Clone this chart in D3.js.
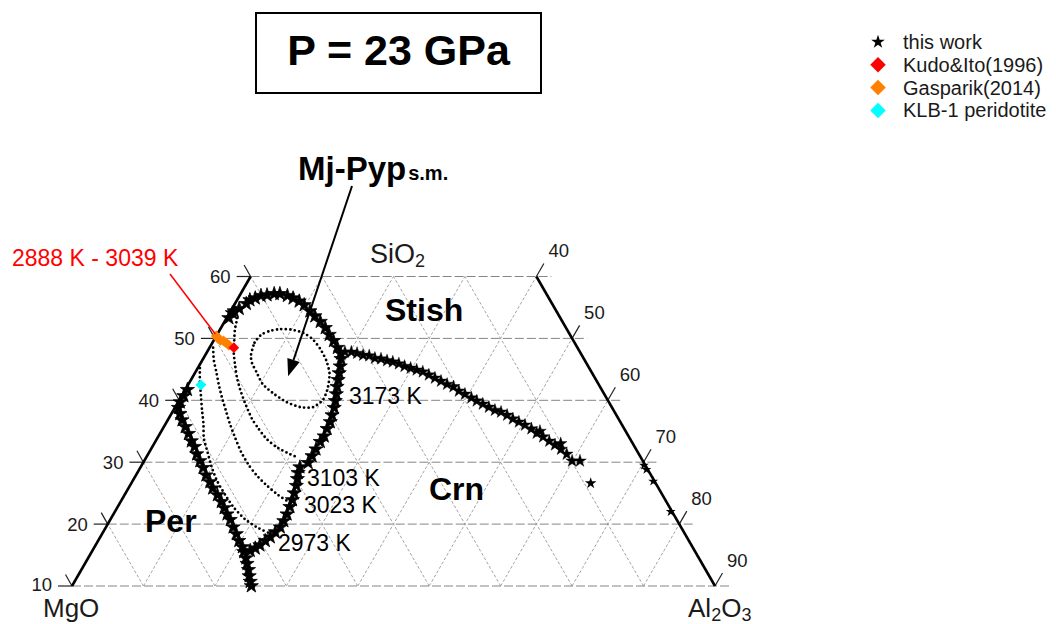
<!DOCTYPE html>
<html><head><meta charset="utf-8">
<script src="https://cdn.jsdelivr.net/npm/d3@7"></script>
<style>
body{margin:0;background:#fff}
svg{display:block}
text{font-family:"Liberation Sans",Arial,Helvetica,sans-serif}
</style>
</head><body>
<svg id="chart" width="1056" height="624"></svg>
<script>
// ---------- data (ternary compositions: [SiO2, Al2O3], MgO = 100 - SiO2 - Al2O3) ----------
const siO2Ticks = [10, 20, 30, 40, 50, 60];
const al2O3Ticks = [40, 50, 60, 70, 80, 90];
const gridAl = [10, 20, 30, 40, 50, 60, 70, 80];
const gridMg = [10, 20, 30, 40, 50, 60, 70, 80];

// "this work" – Per / Mj-Pyp boundary and stem
const starsPerBoundary = [[41.7,0.3],[40.7,0.3],[39.7,0.3],[38.8,0.5],[37.8,1.2],[36.8,2.0],[35.7,3.0],[34.6,4.0],[33.4,5.0],[32.5,5.9],[31.3,6.8],[30.2,7.8],[29.1,8.8],[27.9,9.8],[26.8,10.9],[25.8,11.8],[24.7,13.0],[23.6,14.1],[22.6,15.0],[21.6,15.9],[20.7,16.8],[19.5,17.8],[18.4,18.8],[17.3,19.7],[16.3,20.7],[15.5,21.3],
  [14.5,22.1],[13.6,22.7],[12.6,23.4],[11.6,24.0],[10.7,24.6],[10.0,25.1]];
// "this work" – Crn / Mj-Pyp boundary (lower part)
const starsCrnLower = [[15.7,22.1],[16.1,22.6],[16.6,23.0],[17.3,23.4],[17.9,23.8],[18.7,24.1],[19.5,24.4],[20.5,24.4],[21.6,24.3],[22.8,24.1],[23.9,23.9],[25.0,23.6],[26.2,23.3],[27.3,22.9],[28.3,22.5],[29.2,22.3]];
// "this work" – Crn / Mj-Pyp boundary (upper part)
const starsCrnUpper = [[29.9,23.1],[31.0,23.1],[32.1,23.1],[33.3,23.1],[34.2,23.2],[35.4,23.0],[36.5,22.9],[37.6,22.6],[38.8,22.3],[39.9,21.9],[41.0,21.5],[42.2,21.0],[43.3,20.6],[44.4,20.2],[45.5,19.8],[46.7,19.3],[47.6,18.8]];
// "this work" – Stish / Mj-Pyp boundary
const starsStish = [[48.5,17.9],[49.6,16.8],[50.6,15.7],[51.7,14.6],[52.7,13.4],[53.6,12.2],[54.4,11.1],[55.4,9.8],[56.0,8.8],[56.5,7.7],[56.9,6.7],[57.2,5.5],[57.2,4.7],[57.0,3.8],[56.9,3.0],[56.5,2.4],[56.2,1.8],[55.6,1.6],
  [53.3,0.3],[54.1,0.4],[54.4,0.5],[54.8,1.0]];
// "this work" – Stish / Crn boundary
const starsStishCrn = [[47.8,19.3],[47.8,20.2],[47.6,21.1],[47.3,22.1],[47.2,23.0],[46.8,24.0],[46.7,24.9],[46.4,25.9],[46.2,26.8],[45.9,27.8],[45.5,28.8],[45.2,29.8],[44.9,30.8],[44.6,31.8],[44.1,32.9],[43.6,34.0],[43.1,35.1],[42.6,36.2],[42.2,37.3],[41.5,38.4],[41.0,39.5],[40.4,40.7],[39.9,41.7],[39.4,42.8],[38.9,43.9],[38.4,45.0],[38.1,46.0],[37.6,47.1],[37.0,48.2],[36.5,49.3],[36.0,50.4],[35.4,51.6],[35.0,53.0],[34.7,52.7],[34.1,53.9],[33.4,55.1],[33.0,56.9],[32.8,56.2],[32.1,57.4],[31.3,58.6],[30.2,59.9],[30.2,61.0]];
const starsIsolated = [[26.6,64.3]];
const starsRightEdge = [[29.5,70.3],[28.8,71.0],[26.9,72.9],[22.0,77.8]];

// Mj-Pyp solid-solution isotherms (dotted)
const iso3173 = [[47.3,6.4],[49.3,5.9],[50.6,6.2],[51.2,7.1],[51.5,8.4],[51.4,10.1],[50.9,11.9],[49.9,13.7],[48.3,15.6],[46.4,17.4],[44.3,18.9],[42.0,19.8],[40.1,20.1],[38.9,19.3],[38.9,17.5],[39.7,15.2],[41.0,12.8],[42.6,10.4],[44.6,8.5],[46.0,7.2]];
const iso3103 = [[53.3,1.5],[51.4,2.1],[49.4,3.0],[47.5,3.9],[45.5,5.1],[43.6,6.3],[41.7,7.7],[39.6,9.4],[37.1,11.6],[35.5,13.3],[33.8,15.3],[32.5,17.3],[31.5,19.4],[30.8,21.1]];
const iso3023 = [[48.5,0.5],[46.5,1.6],[44.6,2.9],[42.5,4.3],[40.4,5.8],[38.3,7.4],[36.2,9.0],[33.9,10.9],[31.7,12.8],[29.6,14.9],[27.8,17.0],[26.2,19.2],[24.7,21.5],[23.6,23.5]];
const iso2973 = [[45.2,0.3],[43.0,1.4],[40.7,2.7],[38.4,4.0],[36.2,5.3],[33.9,6.5],[31.7,8.1],[29.4,9.8],[27.1,11.7],[24.7,14.1],[22.6,16.4],[20.8,18.8],[19.5,21.1],[18.6,23.2]];

const kudoIto = [[48.5,3.4]];
const gasparik = [[50.4,0.0],[50.1,0.3],[49.7,0.9],[49.6,1.4],[49.3,1.9],[48.9,2.5]];
const klb1 = [[42.5,1.8]];
const arrowTarget = [43.9, 13.3];

const legendLabels = ["this work", "Kudo&Ito(1996)", "Gasparik(2014)", "KLB-1 peridotite"];
const legendColors = ["#000000", "#ff0000", "#ff8000", "#00ffff"];

// ---------- scales ----------
const yScale = d3.scaleLinear().domain([10, 60]).range([586, 276.5]);
const xScale = d3.scaleLinear().domain([5, 95]).range([72, 715]);
const P = (s, a) => [xScale(a + s / 2), yScale(s)];

const svg = d3.select("#chart");

// ---------- grid ----------
const grid = svg.append("g");
gridAl.forEach(a => {
  const p1 = P(10, a), p2 = P(Math.min(60, 100 - a), a);
  grid.append("line").attr("x1", p1[0]).attr("y1", p1[1]).attr("x2", p2[0]).attr("y2", p2[1])
    .attr("stroke", "#a4a4a4").attr("stroke-width", 1).attr("stroke-dasharray", "3,2");
});
gridMg.forEach(m => {
  const sTop = Math.min(60, 100 - m);
  const p1 = P(10, 90 - m), p2 = P(sTop, 100 - sTop - m);
  grid.append("line").attr("x1", p1[0]).attr("y1", p1[1]).attr("x2", p2[0]).attr("y2", p2[1])
    .attr("stroke", "#a4a4a4").attr("stroke-width", 1).attr("stroke-dasharray", "3,2");
});
siO2Ticks.forEach(s => {
  const pl = P(s, 0), pr = P(s, 100 - s);
  grid.append("line").attr("x1", pl[0]).attr("y1", pl[1]).attr("x2", pr[0] + 15).attr("y2", pr[1])
    .attr("stroke", "#858585").attr("stroke-width", 1).attr("stroke-dasharray", "9,3");
  grid.append("line").attr("x1", pl[0] - 14).attr("y1", pl[1]).attr("x2", pl[0]).attr("y2", pl[1])
    .attr("stroke", "#222").attr("stroke-width", 1.2);
  grid.append("line").attr("x1", pl[0]).attr("y1", pl[1]).attr("x2", pl[0] - 6.5).attr("y2", pl[1] - 11.5)
    .attr("stroke", "#222").attr("stroke-width", 1.2);
  svg.append("text").attr("x", pl[0] - 20).attr("y", pl[1] + (s === 10 ? 4.5 : 6.5)).attr("text-anchor", "end")
    .attr("font-size", 18.5).attr("fill", "#1a1a1a").text(s);
});
al2O3Ticks.forEach(a => {
  const p = P(100 - a, a);
  grid.append("line").attr("x1", p[0]).attr("y1", p[1]).attr("x2", p[0] + 7.5).attr("y2", p[1] - 13)
    .attr("stroke", "#222").attr("stroke-width", 1.2);
  svg.append("text").attr("x", p[0] + 12).attr("y", p[1] - 19.5)
    .attr("font-size", 18.5).attr("fill", "#1a1a1a").text(a);
});
const eL1 = P(10, 0), eL2 = P(60, 0), eR1 = P(60, 40), eR2 = P(10, 90);
svg.append("line").attr("x1", eL1[0]).attr("y1", eL1[1]).attr("x2", eL2[0]).attr("y2", eL2[1])
  .attr("stroke", "#000").attr("stroke-width", 2.6);
svg.append("line").attr("x1", eR1[0]).attr("y1", eR1[1]).attr("x2", eR2[0]).attr("y2", eR2[1])
  .attr("stroke", "#000").attr("stroke-width", 2.6);

// ---------- isotherms ----------
const lineGen = d3.line().x(d => P(d[0], d[1])[0]).y(d => P(d[0], d[1])[1]);
const dotted = (data, closed) => svg.append("path")
  .attr("d", lineGen.curve(closed ? d3.curveCardinalClosed.tension(0.3) : d3.curveCardinal.tension(0.3))(data))
  .attr("fill", "none").attr("stroke", "#000").attr("stroke-width", 2.8)
  .attr("stroke-linecap", "round").attr("stroke-dasharray", "0,4.5");
dotted(iso3173, true);
dotted(iso3103, false);
dotted(iso3023, false);
dotted(iso2973, false);

// ---------- stars ----------
const drawStars = (data, size, sw) => svg.append("g").selectAll("path").data(data).join("path")
  .attr("d", d3.symbol().type(d3.symbolStar).size(size))
  .attr("transform", d => { const p = P(d[0], d[1]); return `translate(${p[0]},${p[1]})`; })
  .attr("fill", "#000").attr("stroke", "#000").attr("stroke-width", sw).attr("stroke-linejoin", "round");
drawStars([].concat(starsPerBoundary, starsCrnLower, starsCrnUpper, starsStish), 62, 0.8);
drawStars(starsStishCrn, 50, 0.4);
drawStars(starsIsolated, 42, 0);
drawStars(starsRightEdge, 30, 0);

// ---------- literature diamonds ----------
const diamond = d3.symbol().type(d3.symbolSquare).size(58);
const drawDiamonds = (data, color) => svg.append("g").selectAll("path").data(data).join("path")
  .attr("d", diamond)
  .attr("transform", d => { const p = P(d[0], d[1]); return `translate(${p[0]},${p[1]}) rotate(45)`; })
  .attr("fill", color);
drawDiamonds(gasparik, legendColors[2]);
drawDiamonds(kudoIto, legendColors[1]);
drawDiamonds(klb1, legendColors[3]);

// ---------- annotations ----------
svg.append("text").attr("x", 12).attr("y", 266).attr("font-size", 23).attr("fill", "#ff0000")
  .text("2888 K - 3039 K");
const g0 = P(gasparik[0][0], gasparik[0][1]);
svg.append("line").attr("x1", 170).attr("y1", 274).attr("x2", g0[0] - 1).attr("y2", g0[1] - 2)
  .attr("stroke", "#ff0000").attr("stroke-width", 1.5);

[["3173 K", 349, 404], ["3103 K", 307, 486], ["3023 K", 304, 513], ["2973 K", 278, 551]].forEach(t => {
  svg.append("text").attr("x", t[1]).attr("y", t[2]).attr("font-size", 23).attr("fill", "#000").text(t[0]);
});

const mj = svg.append("text").attr("x", 298).attr("y", 180).attr("font-size", 33).attr("font-weight", "bold").attr("fill", "#000");
mj.append("tspan").text("Mj-Pyp");
mj.append("tspan").attr("font-size", 20).attr("dx", 2).text("s.m.");
const tip = P(arrowTarget[0], arrowTarget[1]);
const start = [352, 186];
const ang = Math.atan2(tip[1] - start[1], tip[0] - start[0]);
const headLen = 17, headW = 6.5;
const base = [tip[0] - headLen * Math.cos(ang), tip[1] - headLen * Math.sin(ang)];
svg.append("line").attr("x1", start[0]).attr("y1", start[1]).attr("x2", base[0]).attr("y2", base[1])
  .attr("stroke", "#000").attr("stroke-width", 2);
svg.append("path").attr("d", d3.line()([
  tip,
  [base[0] + headW * Math.sin(ang), base[1] - headW * Math.cos(ang)],
  [base[0] - headW * Math.sin(ang), base[1] + headW * Math.cos(ang)]
]) + "Z").attr("fill", "#000");

[["Stish", 385, 321], ["Crn", 429, 500], ["Per", 145, 532]].forEach(t => {
  svg.append("text").attr("x", t[1]).attr("y", t[2]).attr("font-size", 32).attr("font-weight", "bold").attr("fill", "#000").text(t[0]);
});

const si = svg.append("text").attr("x", 370).attr("y", 263).attr("font-size", 27).attr("fill", "#1a1a1a");
si.append("tspan").text("SiO");
si.append("tspan").attr("font-size", 18).attr("dy", 4).text("2");
svg.append("text").attr("x", 43).attr("y", 617).attr("font-size", 26).attr("fill", "#1a1a1a").text("MgO");
const al = svg.append("text").attr("x", 688).attr("y", 617).attr("font-size", 26).attr("fill", "#1a1a1a");
al.append("tspan").text("Al");
al.append("tspan").attr("font-size", 18).attr("dy", 4).text("2");
al.append("tspan").attr("dy", -4).text("O");
al.append("tspan").attr("font-size", 18).attr("dy", 4).text("3");

svg.append("rect").attr("x", 256).attr("y", 13).attr("width", 285).attr("height", 80)
  .attr("fill", "none").attr("stroke", "#000").attr("stroke-width", 2);
svg.append("text").attr("x", 398.5).attr("y", 65).attr("text-anchor", "middle")
  .attr("font-size", 43).attr("font-weight", "bold").attr("fill", "#000").text("P = 23 GPa");

// ---------- legend ----------
const leg = svg.append("g");
legendLabels.forEach((lab, i) => {
  const cy = 42 + i * 22.8;
  if (i === 0) {
    leg.append("path").attr("d", d3.symbol().type(d3.symbolStar).size(58)())
      .attr("transform", `translate(878,${cy})`).attr("fill", legendColors[i]);
  } else {
    leg.append("path").attr("d", d3.symbol().type(d3.symbolSquare).size(120)())
      .attr("transform", `translate(878,${cy}) rotate(45)`).attr("fill", legendColors[i]);
  }
  leg.append("text").attr("x", 903).attr("y", cy + 7).attr("font-size", 20).attr("fill", "#1a1a1a").text(lab);
});
</script>
</body></html>
